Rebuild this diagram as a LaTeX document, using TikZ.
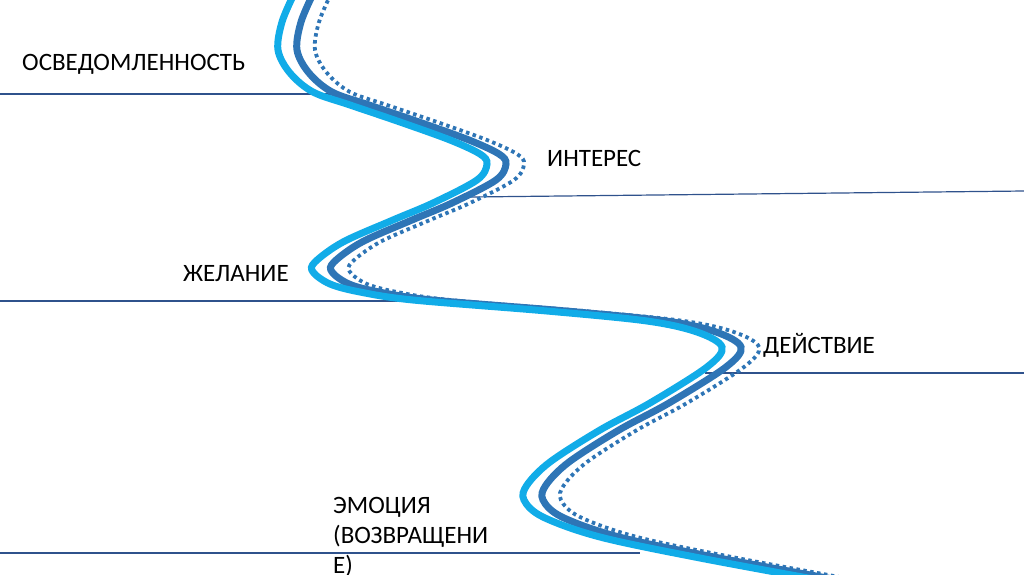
\documentclass[tikz,border=0pt]{standalone}
\usepackage{fontspec}
\setmainfont{Carlito}
\definecolor{lightwave}{RGB}{17,172,232}
\definecolor{darkwave}{RGB}{46,117,182}
\definecolor{rulecol}{RGB}{47,82,140}
\tikzset{
  rule/.style={draw=rulecol, line width=1.2pt},
  lbl/.style={anchor=base west, inner sep=0pt, font=\fontsize{25}{30}\selectfont, text=black},
  wave1/.style={draw=lightwave, line width=7pt},
  wave2/.style={draw=darkwave, line width=7pt},
  wave3/.style={draw=darkwave, line width=3.8pt, dash pattern=on 3.5pt off 3.5pt},
}
\begin{document}
\begin{tikzpicture}[x=1pt,y=-1pt]
\useasboundingbox (0,0) rectangle (1024,574);
\clip (0,0) rectangle (1024,574);
% horizontal rules
\coordinate (r1a) at (0,94);   \coordinate (r1b) at (330,94);
\coordinate (r2a) at (470,197); \coordinate (r2b) at (1024,191);
\coordinate (r3a) at (0,301);  \coordinate (r3b) at (420,301);
\coordinate (r4a) at (705,373); \coordinate (r4b) at (1024,373);
\coordinate (r5a) at (0,553);  \coordinate (r5b) at (640,553);
\draw[rule] (r1a) -- (r1b);
\draw[rule] (r2a) -- (r2b);
\draw[rule] (r3a) -- (r3b);
\draw[rule] (r4a) -- (r4b);
\draw[rule] (r5a) -- (r5b);
% waves
\def\wavepath{plot[smooth, tension=0.55] coordinates {(294,-6) (282,22) (278,50) (290,73) (313,92) (350,105) (400,122) (450,140) (480,154) (487,164) (477,180) (433,203) (393,220) (343,242) (315,262) (313,272) (330,284) (360,292) (413,300) (547,311) (647,321) (697,332) (722,347) (707,367) (650,403) (600,430) (550,462) (527,485) (524,500) (543,517) (600,537) (700,558) (830,582)}}
\draw[wave3, xshift=37pt] \wavepath;
\draw[wave2, xshift=19pt] \wavepath;
\draw[wave1] \wavepath;
% labels
\node[lbl] (aw) at (22,70) {ОСВЕДОМЛЕННОСТЬ};
\node[lbl] (in) at (547,166) {ИНТЕРЕС};
\node[lbl] (de) at (183,281) {ЖЕЛАНИЕ};
\node[lbl] (ac) at (763,353) {ДЕЙСТВИЕ};
\node[lbl] (em1) at (333,513) {ЭМОЦИЯ};
\node[lbl] (em2) at (333,543) {(ВОЗВРАЩЕНИ};
\node[lbl] (em3) at (333,573) {Е)};
\end{tikzpicture}
\end{document}
